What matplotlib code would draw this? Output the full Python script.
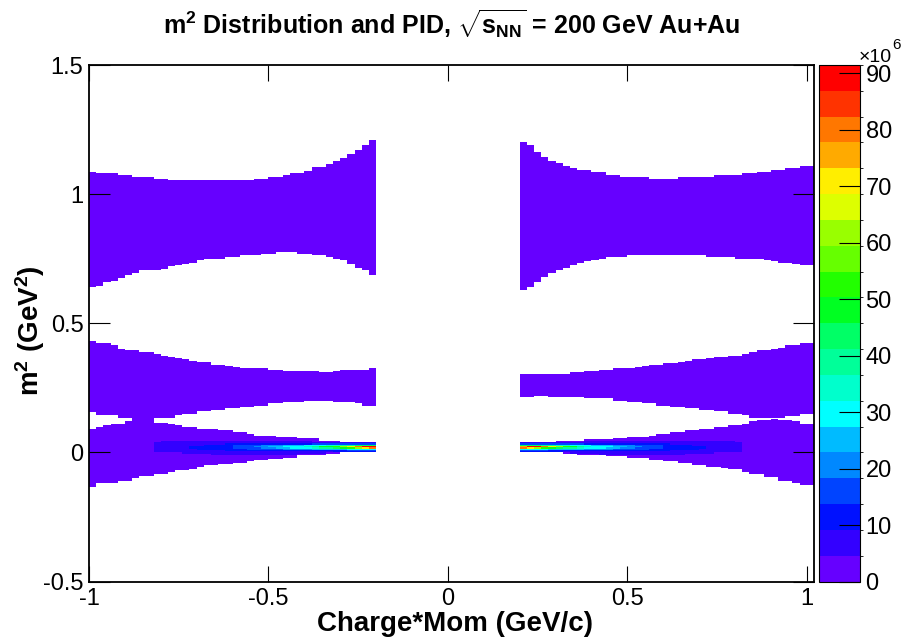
import numpy as np
import matplotlib
matplotlib.use("Agg")
import matplotlib.pyplot as plt
from matplotlib.colors import ListedColormap, BoundaryNorm

plt.rcParams['font.family'] = ['Liberation Sans', 'DejaVu Sans']
plt.rcParams['mathtext.fontset'] = 'custom'
plt.rcParams['mathtext.rm'] = 'Liberation Sans:bold'
plt.rcParams['mathtext.it'] = 'Liberation Sans:bold'
plt.rcParams['mathtext.bf'] = 'Liberation Sans:bold'

# ---- palette (20 contour levels, bottom -> top) ----
palette = ['#6600ff', '#3300ff', '#0011ff', '#0044ff', '#0088ff',
           '#00bbff', '#00ffff', '#00ffcc', '#00ff99', '#00ff66',
           '#00ff22', '#22ff00', '#66ff00', '#99ff00', '#ddff00',
           '#ffee00', '#ffaa00', '#ff7700', '#ff3300', '#ff0000']
zmax = 91.5e6

# ---- band edges, negative side: 40 bins of 0.02 from p = -1.00 ----
left_p_hi = [1.085, 1.08, 1.08, 1.08, 1.075, 1.075, 1.065, 1.065, 1.065, 1.06,
             1.06, 1.055, 1.055, 1.055, 1.055, 1.055, 1.055, 1.055, 1.055, 1.055,
             1.055, 1.055, 1.055, 1.06, 1.06, 1.065, 1.065, 1.075, 1.08, 1.08,
             1.09, 1.105, 1.105, 1.115, 1.13, 1.14, 1.155, 1.17, 1.19, 1.21]
left_p_lo = [0.64, 0.647, 0.658, 0.664, 0.676, 0.685, 0.694, 0.703, 0.703, 0.703,
             0.711, 0.718, 0.726, 0.731, 0.736, 0.743, 0.748, 0.751, 0.751, 0.757,
             0.757, 0.764, 0.764, 0.764, 0.771, 0.771, 0.775, 0.775, 0.775, 0.771,
             0.771, 0.764, 0.764, 0.757, 0.751, 0.743, 0.729, 0.717, 0.703, 0.686]
left_k_hi = [0.432, 0.424, 0.424, 0.415, 0.401, 0.395, 0.395, 0.389, 0.389, 0.38,
             0.375, 0.37, 0.366, 0.362, 0.357, 0.349, 0.349, 0.342, 0.342, 0.337,
             0.331, 0.327, 0.327, 0.323, 0.323, 0.319, 0.319, 0.317, 0.314, 0.314,
             0.314, 0.314, 0.31, 0.31, 0.314, 0.319, 0.32, 0.32, 0.32, 0.326]
left_k_lo = [0.156, 0.147, 0.147, 0.147, 0.137, 0.137, 0.115, 0.115, 0.115, 0.137,
             0.137, 0.137, 0.147, 0.152, 0.152, 0.159, 0.159, 0.165, 0.165, 0.172,
             0.172, 0.177, 0.177, 0.182, 0.182, 0.189, 0.189, 0.194, 0.194, 0.194,
             0.198, 0.198, 0.198, 0.198, 0.194, 0.194, 0.194, 0.189, 0.182, 0.182]
left_pi_hi = [0.089, 0.098, 0.105, 0.111, 0.111, 0.118, 0.121, 0.121, 0.121, 0.116,
              0.116, 0.111, 0.105, 0.098, 0.098, 0.092, 0.092, 0.092, 0.085, 0.085,
              0.079, 0.079, 0.072, 0.066, 0.066, 0.066, 0.06, 0.06, 0.06, 0.053,
              0.053, 0.053, 0.047, 0.047, 0.047, 0.04, 0.04, 0.036, 0.036, 0.036]
left_pi_lo = [-0.134, -0.121, -0.118, -0.118, -0.109, -0.109, -0.099, -0.092, -0.092, -0.083,
              -0.083, -0.076, -0.07, -0.07, -0.063, -0.057, -0.05, -0.05, -0.044, -0.044,
              -0.04, -0.04, -0.035, -0.031, -0.031, -0.025, -0.025, -0.018, -0.018, -0.012,
              -0.012, -0.012, -0.012, -0.005, -0.005, 0.001, 0.001, 0.005, 0.005, 0.005]

# ---- band edges, positive side: 41 bins of 0.02 from p = 0.20 ----
right_p_hi = [1.202, 1.19, 1.163, 1.147, 1.132, 1.121, 1.112, 1.101, 1.093, 1.093,
              1.083, 1.083, 1.074, 1.074, 1.066, 1.066, 1.066, 1.066, 1.058, 1.058,
              1.058, 1.058, 1.066, 1.066, 1.066, 1.066, 1.066, 1.074, 1.074, 1.074,
              1.074, 1.08, 1.08, 1.085, 1.085, 1.093, 1.093, 1.101, 1.101, 1.109, 1.109]
right_p_lo = [0.628, 0.641, 0.659, 0.682, 0.693, 0.705, 0.717, 0.725, 0.734, 0.742,
              0.746, 0.751, 0.756, 0.756, 0.756, 0.764, 0.764, 0.764, 0.764, 0.764,
              0.764, 0.764, 0.764, 0.764, 0.764, 0.764, 0.757, 0.757, 0.757, 0.757,
              0.749, 0.749, 0.749, 0.749, 0.744, 0.738, 0.734, 0.734, 0.731, 0.725, 0.725]
right_k_hi = [0.305, 0.305, 0.305, 0.305, 0.305, 0.305, 0.305, 0.31, 0.31, 0.315,
              0.315, 0.32, 0.32, 0.326, 0.326, 0.326, 0.331, 0.336, 0.341, 0.341,
              0.346, 0.346, 0.351, 0.357, 0.36, 0.36, 0.364, 0.37, 0.37, 0.375,
              0.375, 0.38, 0.388, 0.395, 0.395, 0.401, 0.407, 0.415, 0.415, 0.424, 0.424]
right_k_lo = [0.214, 0.214, 0.221, 0.221, 0.214, 0.214, 0.214, 0.214, 0.214, 0.208,
              0.208, 0.208, 0.208, 0.199, 0.199, 0.195, 0.195, 0.189, 0.189, 0.182,
              0.182, 0.176, 0.176, 0.172, 0.172, 0.165, 0.165, 0.159, 0.159, 0.152,
              0.152, 0.146, 0.137, 0.137, 0.137, 0.137, 0.137, 0.14, 0.14, 0.152, 0.152]
right_pi_hi = [0.037, 0.037, 0.037, 0.037, 0.037, 0.043, 0.043, 0.043, 0.043, 0.049,
               0.049, 0.049, 0.049, 0.053, 0.053, 0.062, 0.062, 0.062, 0.066, 0.072,
               0.072, 0.079, 0.079, 0.085, 0.085, 0.092, 0.092, 0.098, 0.098, 0.105,
               0.105, 0.111, 0.12, 0.127, 0.127, 0.13, 0.127, 0.127, 0.118, 0.111, 0.111]
right_pi_lo = [0.001, 0.001, 0.001, 0.001, 0.001, 0.001, -0.003, -0.003, -0.009, -0.009,
               -0.009, -0.009, -0.016, -0.016, -0.016, -0.021, -0.021, -0.021, -0.031, -0.031,
               -0.035, -0.035, -0.041, -0.041, -0.048, -0.048, -0.054, -0.054, -0.061, -0.067,
               -0.067, -0.074, -0.083, -0.083, -0.096, -0.096, -0.109, -0.109, -0.118, -0.125, -0.125]

# ---- pion peak, contour level per cell (0-9, a=10 ... j=19); '.' = band only ----
# rows: lower edge of m^2 bin; columns: 31 bins of 0.02
core_rows_lo = [0.040, 0.035, 0.030, 0.025, 0.020, 0.015, 0.010, 0.005, 0.000, -0.005, -0.010]
# p = -0.82 ... -0.22
core_left = [
    ".111111111111111111111.........",
    "1111111111111111111111111111111",
    "1111111111222222222222333333333",
    "1111111222233334445556667788999",
    "11111222222333445566678aabdfhjj",
    "11111222222333344556667889abdfh",
    "1111112222222333334444555556666",
    "1111111111222222222222222223333",
    "1111111111111111111111111222222",
    "....11111111111111111111.......",
    "........111111111111...........",
]
# p = 0.20 ... 0.80
core_right = [
    ".........111111111111111111111.",
    "1111111111111111111111111111111",
    "3333333332222222222221111111111",
    "9998877666555444333322221111111",
    "gjjhfdba87666554433322222211111",
    "hfdba98876665544333322222211111",
    "6666555554444333332222222111111",
    "3333222222222222222221111111111",
    "2222221111111111111111111111111",
    ".......11111111111111111111....",
    "...........111111111111........",
]

levels = "0123456789abcdefghij"

# ---- fill the 2D histogram ----
x_edges = np.round(np.arange(0, 102) * 0.02 - 1.0, 4)
y_edges = np.round(np.arange(0, 401) * 0.005 - 0.5, 4)
y_cent = 0.5 * (y_edges[:-1] + y_edges[1:])
z = np.zeros((400, 101))

def fill_side(start, bands):
    for lo_list, hi_list in bands:
        for k, (lo, hi) in enumerate(zip(lo_list, hi_list)):
            sel = (y_cent >= lo) & (y_cent <= hi)
            z[sel, start + k] = 1.0

fill_side(0, [(left_p_lo, left_p_hi), (left_k_lo, left_k_hi), (left_pi_lo, left_pi_hi)])
fill_side(60, [(right_p_lo, right_p_hi), (right_k_lo, right_k_hi), (right_pi_lo, right_pi_hi)])

step = zmax / 20
for start, rows in [(9, core_left), (60, core_right)]:
    for lo, row in zip(core_rows_lo, rows):
        iy = int(round((lo + 0.5) / 0.005))
        for c, ch in enumerate(row):
            if ch != '.':
                z[iy, start + c] = (levels.index(ch) + 0.5) * step

zm = np.ma.masked_where(z <= 0, z)

cmap = ListedColormap(palette)
norm = BoundaryNorm(np.linspace(0, zmax, 21), 20)

fig = plt.figure(figsize=(9.08, 6.38), dpi=100)
ax = fig.add_axes([89 / 908, 1 - 581.5 / 638, 725 / 908, 516.5 / 638])
mesh = ax.pcolormesh(x_edges, y_edges, zm, cmap=cmap, norm=norm)

ax.set_xlim(-1, 1.02)
ax.set_ylim(-0.5, 1.5)
ax.set_xticks([-1, -0.5, 0, 0.5, 1])
ax.set_xticklabels(['-1', '-0.5', '0', '0.5', '1'])
ax.set_yticks([-0.5, 0, 0.5, 1, 1.5])
ax.set_yticklabels(['-0.5', '0', '0.5', '1', '1.5'])
ax.tick_params(axis='x', direction='in', length=11.5, width=0.8, top=True,
               labelsize=17, pad=5)
ax.tick_params(axis='y', direction='in', length=15, width=0.8, right=True,
               labelsize=17, pad=4)
for s in ax.spines.values():
    s.set_linewidth(1.3)

# colorbar
cax = fig.add_axes([819 / 908, 1 - 581.5 / 638, 41 / 908, 516.5 / 638])
cb = fig.colorbar(mesh, cax=cax, ticks=np.arange(0, 91e6, 10e6))
cb.set_ticklabels([str(v) for v in range(0, 91, 10)])
cax.tick_params(direction='in', length=15, width=0.8, labelsize=17, pad=4, color='black')
cb.outline.set_linewidth(0.8)
fig.text(859 / 908, 1 - 57 / 638, '×10', fontsize=14, ha='left', va='center')
fig.text(892 / 908, 1 - 52 / 638, '6', fontsize=11, ha='left', va='bottom')

fig.text(452 / 908, 1 - 24 / 638,
         r'm$^2$ Distribution and PID, $\sqrt{s_{NN}}$ = 200 GeV Au+Au',
         fontsize=18, fontweight='bold', ha='center', va='center')
fig.text(455 / 908, 1 - 624 / 638, 'Charge*Mom (GeV/c)', fontsize=20,
         fontweight='bold', ha='center', va='center')
fig.text(30 / 908, 1 - 331 / 638, r'm$^2$ (GeV$^2$)', fontsize=20,
         fontweight='bold', ha='center', va='center', rotation=90)

fig.savefig('out.png', dpi=100)
